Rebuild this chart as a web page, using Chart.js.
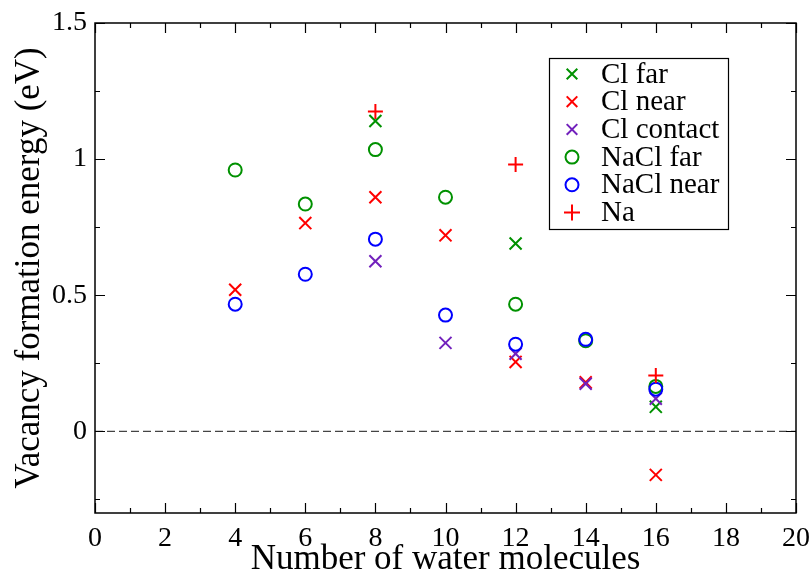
<!DOCTYPE html>
<html>
<head>
<meta charset="utf-8">
<script src="https://cdn.jsdelivr.net/npm/chart.js@4"></script>
<style>
  html, body { margin: 0; padding: 0; background: #fff; }
  #wrap { width: 812px; height: 574px; }
</style>
</head>
<body>
<div id="wrap"><canvas id="chart" width="812" height="574"></canvas></div>
<script>
// vacancy formation energy vs number of water molecules

// tick labels
const xTicks = [0, 2, 4, 6, 8, 10, 12, 14, 16, 18, 20];
const yTicks = [0, 0.5, 1, 1.5];

// series values
const clFarX = [8, 12, 16];
const clFarY = [1.14, 0.69, 0.09];
const clNearX = [4, 6, 8, 10, 12, 14, 16];
const clNearY = [0.52, 0.765, 0.86, 0.72, 0.255, 0.18, -0.16];
const clContactX = [8, 10, 12, 14, 16];
const clContactY = [0.625, 0.325, 0.285, 0.175, 0.12];
const naclFarX = [4, 6, 8, 10, 12, 14, 16];
const naclFarY = [0.96, 0.835, 1.035, 0.86, 0.467, 0.333, 0.165];
const naclNearX = [4, 6, 8, 10, 12, 14, 16];
const naclNearY = [0.467, 0.577, 0.706, 0.427, 0.32, 0.338, 0.155];
const naX = [8, 12, 16];
const naY = [1.175, 0.98, 0.205];

// series names
const seriesNames = ['Cl far', 'Cl near', 'Cl contact', 'NaCl far', 'NaCl near', 'Na'];

const GREEN = 'rgb(0,145,0)';
const RED = 'rgb(255,0,0)';
const PURPLE = 'rgb(114,33,188)';
const BLUE = 'rgb(0,0,255)';
const FONT = "'Liberation Serif', 'Times New Roman', serif";

// pairs x/y arrays into points
function pts(xs, ys) {
    return xs.map((x, i) => ({ x: x, y: ys[i] }));
}

function markerSet(label, xs, ys, color, style, radius, idx) {
    return {
        label: label,
        data: pts(xs, ys),
        showLine: false,
        pointStyle: style,
        pointRadius: radius,
        pointHoverRadius: radius,
        pointBorderColor: color,
        pointBackgroundColor: 'rgba(0,0,0,0)',
        pointBorderWidth: 2,
        borderColor: color,
        order: 10 - idx,   // later sets on top
        clip: false
    };
}

const datasets = [
    markerSet(seriesNames[0], clFarX, clFarY, GREEN, 'crossRot', 8.5, 0),
    markerSet(seriesNames[1], clNearX, clNearY, RED, 'crossRot', 8.5, 1),
    markerSet(seriesNames[2], clContactX, clContactY, PURPLE, 'crossRot', 8.5, 2),
    markerSet(seriesNames[3], naclFarX, naclFarY, GREEN, 'circle', 6.5, 3),
    markerSet(seriesNames[4], naclNearX, naclNearY, BLUE, 'circle', 6.5, 4),
    markerSet(seriesNames[5], naX, naY, RED, 'cross', 7.5, 5),
    // dashed zero line
    {
        label: 'zero',
        data: [{ x: 0, y: 0 }, { x: 20, y: 0 }],
        showLine: true,
        borderColor: '#444',
        borderWidth: 1.3,
        borderDash: [8, 4],
        pointRadius: 0,
        order: 20
    }
];

// inward ticks on all four sides, plus frame and legend box
const framePlugin = {
    id: 'frame',
    afterDatasetsDraw(chart) {
        const ctx = chart.ctx;
        const a = chart.chartArea;
        const xs = chart.scales.x;
        const ys = chart.scales.y;
        ctx.save();
        ctx.strokeStyle = '#000';
        ctx.lineWidth = 1.5;
        ctx.strokeRect(a.left, a.top, a.right - a.left, a.bottom - a.top);
        ctx.lineWidth = 1.2;
        ctx.beginPath();
        for (let v = 0; v <= 20; v++) {
            const px = Math.round(xs.getPixelForValue(v)) + 0.5;
            const len = v % 2 === 0 ? 10 : 5;
            ctx.moveTo(px, a.bottom); ctx.lineTo(px, a.bottom - len);
            ctx.moveTo(px, a.top); ctx.lineTo(px, a.top + len);
        }
        for (let k = -1; k <= 6; k++) {
            const v = k * 0.25;
            const py = Math.round(ys.getPixelForValue(v)) + 0.5;
            const len = k % 2 === 0 ? 10 : 5;
            ctx.moveTo(a.left, py); ctx.lineTo(a.left + len, py);
            ctx.moveTo(a.right, py); ctx.lineTo(a.right - len, py);
        }
        ctx.stroke();

        // legend
        const bx = 549, by = 58, bw = 179, bh = 171, rowH = 27.7;
        ctx.fillStyle = '#fff';
        ctx.fillRect(bx, by, bw, bh);
        ctx.lineWidth = 1.2;
        ctx.strokeRect(bx + 0.5, by + 0.5, bw, bh);
        ctx.font = '29px ' + FONT;
        ctx.textBaseline = 'middle';
        ctx.textAlign = 'left';
        for (let i = 0; i < seriesNames.length; i++) {
            const ds = chart.data.datasets[i];
            const cy = by + 16 + i * rowH;
            ctx.strokeStyle = ds.pointBorderColor;
            ctx.fillStyle = 'rgba(0,0,0,0)';
            ctx.lineWidth = 2;
            const r = ds.pointStyle === 'crossRot' ? 7.5 : (ds.pointStyle === 'circle' ? 6.5 : 8);
            Chart.helpers.drawPoint(ctx, { pointStyle: ds.pointStyle, radius: r, rotation: 0, borderWidth: 2 }, bx + 23, cy);
            ctx.fillStyle = '#000';
            ctx.fillText(seriesNames[i], bx + 52, cy + 1);
        }
        ctx.restore();
    }
};

new Chart(document.getElementById('chart'), {
    type: 'scatter',
    data: { datasets: datasets },
    options: {
        responsive: false,
        animation: false,
        devicePixelRatio: 1,
        layout: { padding: { top: 23, right: 16, left: 0, bottom: 0 } },
        plugins: {
            legend: { display: false },
            tooltip: { enabled: false }
        },
        scales: {
            x: {
                type: 'linear',
                min: 0,
                max: 20,
                grid: { display: false, drawTicks: false },
                border: { display: false },
                afterBuildTicks: s => { s.ticks = xTicks.map(v => ({ value: v })); },
                afterFit: s => { s.height = 61; s.paddingLeft = 0; s.paddingRight = 0; },
                ticks: {
                    color: '#000',
                    padding: 9,
                    maxRotation: 0,
                    font: { family: FONT, size: 28 },
                    callback: v => String(v)
                },
                title: {
                    display: true,
                    text: 'Number of water molecules',
                    color: '#000',
                    padding: { top: 0, bottom: 0 },
                    font: { family: FONT, size: 35, lineHeight: 0.8 }
                }
            },
            y: {
                type: 'linear',
                min: -0.3,
                max: 1.5,
                grid: { display: false, drawTicks: false },
                border: { display: false },
                afterBuildTicks: s => { s.ticks = yTicks.map(v => ({ value: v })); },
                afterFit: s => { s.width = 95; s.paddingTop = 0; s.paddingBottom = 0; },
                ticks: {
                    color: '#000',
                    padding: 8,
                    font: { family: FONT, size: 28 },
                    callback: v => String(v)
                },
                title: {
                    display: true,
                    text: 'Vacancy formation energy (eV)',
                    color: '#000',
                    padding: { top: 9, bottom: 0 },
                    font: { family: FONT, size: 35 }
                }
            }
        }
    },
    plugins: [framePlugin]
});
</script>
</body>
</html>
